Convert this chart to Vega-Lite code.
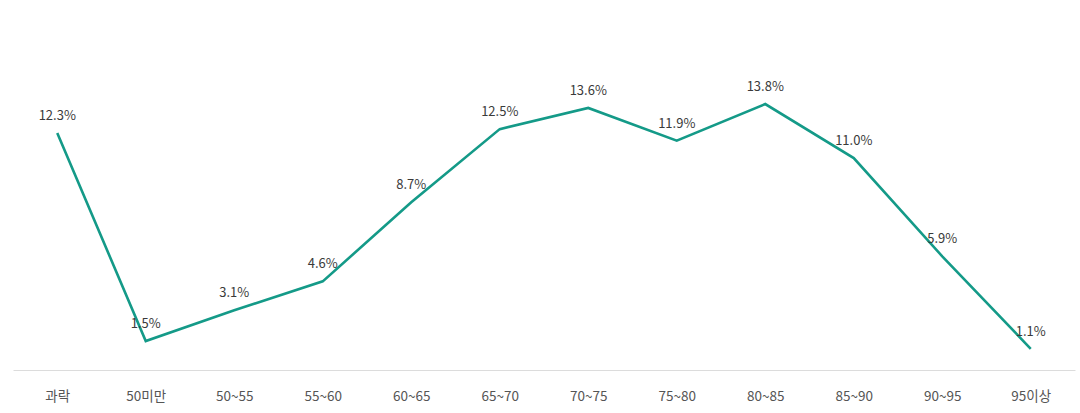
{
  "$schema": "https://vega.github.io/schema/vega-lite/v6.json",
  "autosize": {"type": "none"},
  "width": 1062,
  "height": 370,
  "padding": {"left": 13, "top": 0, "right": 5, "bottom": 43},
  "background": "white",
  "config": {"view": {"stroke": null}},
  "data": {
    "values": [
      {"grade": "과락", "pct": 12.3},
      {"grade": "50미만", "pct": 1.5},
      {"grade": "50~55", "pct": 3.1},
      {"grade": "55~60", "pct": 4.6},
      {"grade": "60~65", "pct": 8.7},
      {"grade": "65~70", "pct": 12.5},
      {"grade": "70~75", "pct": 13.6},
      {"grade": "75~80", "pct": 11.9},
      {"grade": "80~85", "pct": 13.8},
      {"grade": "85~90", "pct": 11.0},
      {"grade": "90~95", "pct": 5.9},
      {"grade": "95이상", "pct": 1.1}
    ]
  },
  "encoding": {
    "x": {
      "field": "grade",
      "type": "nominal",
      "sort": null,
      "scale": {"type": "point", "padding": 0.5},
      "axis": {
        "title": null,
        "labelAngle": 0,
        "ticks": false,
        "grid": false,
        "domainColor": "#dcdcdc",
        "domainWidth": 1,
        "labelFont": "Noto Sans CJK KR",
        "labelFontSize": 13.5,
        "labelColor": "#555555",
        "labelPadding": 19
      }
    },
    "y": {
      "field": "pct",
      "type": "quantitative",
      "scale": {"domain": [0, 19.2], "nice": false, "zero": true},
      "axis": null
    }
  },
  "layer": [
    {
      "mark": {"type": "line", "color": "#149a88", "strokeWidth": 2.6}
    },
    {
      "transform": [{"calculate": "format(datum.pct, '.1f') + '%'", "as": "label"}],
      "mark": {
        "type": "text",
        "baseline": "bottom",
        "dy": -10,
        "font": "Noto Sans CJK KR",
        "fontSize": 13,
        "color": "#3a3a3a"
      },
      "encoding": {
        "text": {"field": "label", "type": "nominal"}
      }
    }
  ]
}
